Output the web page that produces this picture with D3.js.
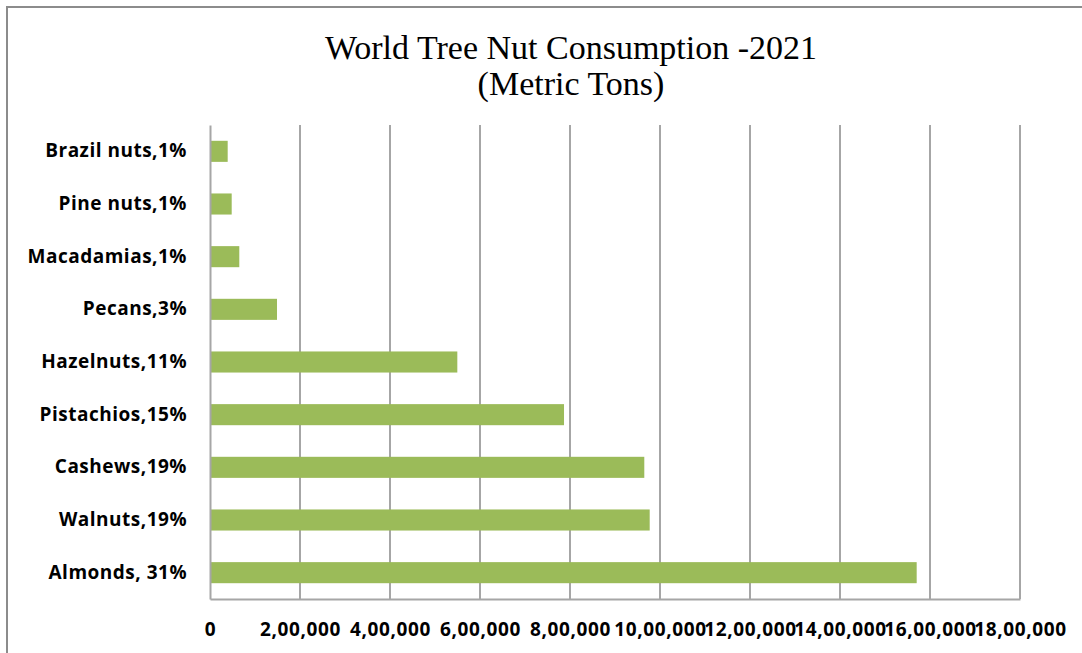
<!DOCTYPE html>
<html>
<head>
<meta charset="utf-8">
<script src="https://cdn.jsdelivr.net/npm/d3@7"></script>
<style>
  body { margin: 0; background: #fff; }
  svg { display: block; }
</style>
</head>
<body>
<div id="chart"></div>
<script>
// data, top to bottom as drawn
const categories = ['Brazil nuts,1%', 'Pine nuts,1%', 'Macadamias,1%', 'Pecans,3%', 'Hazelnuts,11%',
  'Pistachios,15%', 'Cashews,19%', 'Walnuts,19%', 'Almonds, 31%'];
const consumption = [39300, 48200, 65100, 148900, 549600, 786700, 965100, 977100, 1570400];
const xTicks = [0, 200000, 400000, 600000, 800000, 1000000, 1200000, 1400000, 1600000, 1800000];
const xTickLabels = ['0', '2,00,000', '4,00,000', '6,00,000', '8,00,000', '10,00,000',
  '12,00,000', '14,00,000', '16,00,000', '18,00,000'];
const titleLines = ['World Tree Nut Consumption -2021', '(Metric Tons)'];

const width = 1082, height = 653;
const margin = { top: 125, right: 62, bottom: 54, left: 210 };
const innerW = width - margin.left - margin.right;
const innerH = height - margin.top - margin.bottom;

const svg = d3.select('#chart').append('svg')
  .attr('width', width)
  .attr('height', height);

// outer frame (runs off the right and bottom edges)
svg.append('rect')
  .attr('x', 7).attr('y', 7)
  .attr('width', width + 20).attr('height', height + 20)
  .attr('fill', 'none')
  .attr('stroke', '#8c8c8c')
  .attr('stroke-width', 2);

svg.append('text')
  .attr('x', 571)
  .attr('text-anchor', 'middle')
  .style('font-family', '"Liberation Serif", "Times New Roman", serif')
  .style('font-size', '34px')
  .attr('fill', '#000')
  .selectAll('tspan')
  .data(titleLines)
  .join('tspan')
  .attr('x', 571)
  .attr('y', (d, i) => 59 + i * 36)
  .text(d => d);

const g = svg.append('g')
  .attr('transform', `translate(${margin.left},${margin.top})`);

const x = d3.scaleLinear()
  .domain([0, 1800000])
  .range([0, innerW]);

const y = d3.scaleBand()
  .domain(categories)
  .range([0, innerH])
  .paddingInner(0.6)
  .paddingOuter(0.3);

// vertical gridlines
g.append('g')
  .selectAll('line')
  .data(xTicks.slice(1))
  .join('line')
  .attr('x1', d => x(d)).attr('x2', d => x(d))
  .attr('y1', 0).attr('y2', innerH)
  .attr('stroke', '#a6a6a6')
  .attr('stroke-width', 2);

g.append('g')
  .selectAll('rect')
  .data(categories)
  .join('rect')
  .attr('x', x(0))
  .attr('y', d => y(d))
  .attr('width', (d, i) => x(consumption[i]) - x(0))
  .attr('height', y.bandwidth())
  .attr('fill', '#9bbb59');

// axes
const xAxis = g.append('g')
  .attr('transform', `translate(0,${innerH})`)
  .call(d3.axisBottom(x).tickValues(xTicks).tickSize(0).tickPadding(24)
    .tickFormat((d, i) => xTickLabels[i]));
xAxis.select('.domain').attr('stroke', '#a6a6a6').attr('stroke-width', 2);
xAxis.selectAll('text')
  .style('font-family', '"Open Sans", sans-serif')
  .style('font-weight', 'bold')
  .style('font-size', '19px')
  .style('letter-spacing', '0.6px')
  .attr('fill', '#000');

const yAxis = g.append('g')
  .call(d3.axisLeft(y).tickSize(0).tickPadding(23));
yAxis.select('.domain').attr('stroke', '#a6a6a6').attr('stroke-width', 2);
yAxis.selectAll('text')
  .style('font-family', '"Open Sans", sans-serif')
  .style('font-weight', 'bold')
  .style('font-size', '19px')
  .style('letter-spacing', '0.5px')
  .attr('fill', '#000');
</script>
</body>
</html>
